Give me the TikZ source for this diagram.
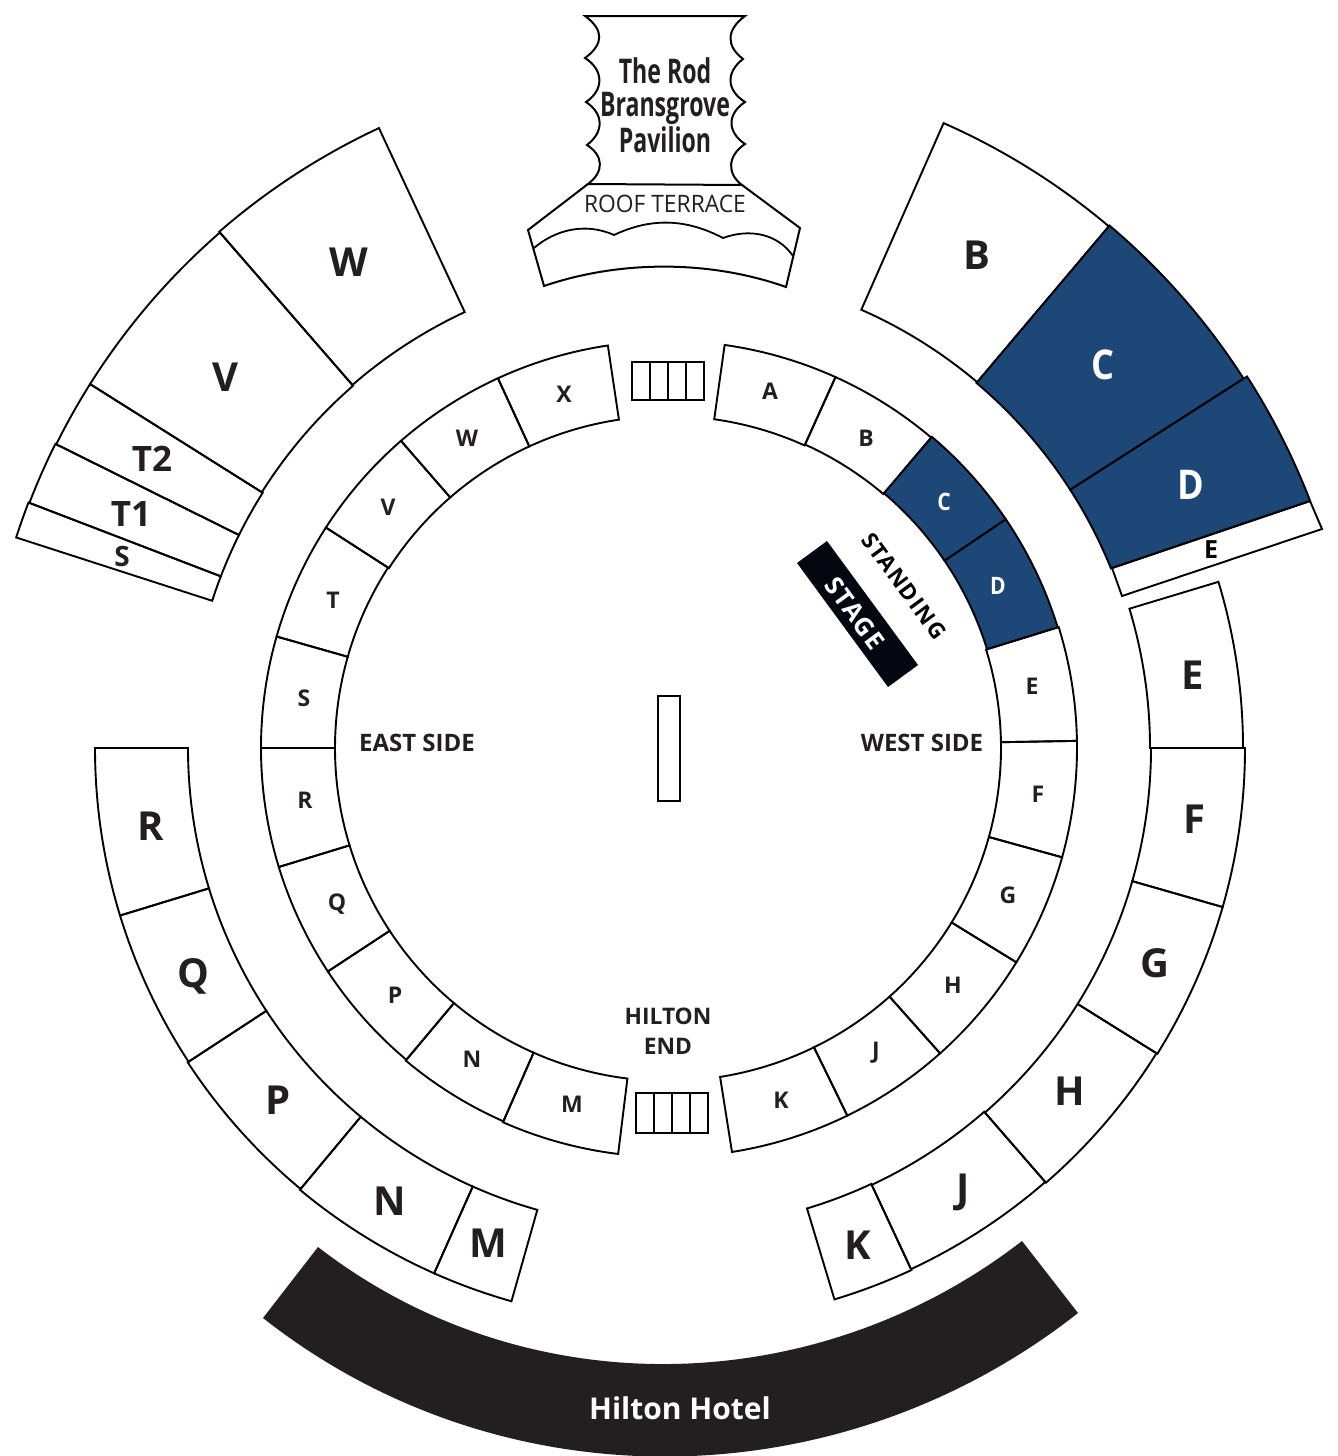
\documentclass[tikz,border=0pt]{standalone}
\usepackage{fontspec}
\setmainfont{Open Sans}
\newfontfamily\pavfont[FakeStretch=0.68]{Open Sans}
\newfontfamily\stagefont[LetterSpace=6]{Open Sans}
\newfontfamily\bluefont[FakeStretch=0.88]{Open Sans}
\definecolor{seatblue}{HTML}{1D4777}
\definecolor{hoteldark}{HTML}{231F20}
\definecolor{stagedark}{HTML}{04070F}
\newcommand{\seat}[5][]{\draw[seatline,#1] (#2:#4) arc[start angle=#2,end angle=#3,radius=#4] -- (#3:#5) arc[start angle=#3,end angle=#2,radius=#5] -- cycle;}
\begin{document}
\begin{tikzpicture}[x=0.5pt, y=-0.5pt,
    seatline/.style = {draw=black, line width=0.95pt, line join=miter},
    pitchline/.style = {draw=black, line width=0.9pt},
    gridline/.style = {draw=black, line width=1.35pt},
    bluefill/.style = {fill=seatblue},
    biglabel/.style = {font=\fontsize{20}{20}\selectfont\bfseries, text=hoteldark, inner sep=0pt},
    bluebig/.style = {font=\bluefont\fontsize{20.5}{20.5}\selectfont\bfseries, text=white, inner sep=0pt},
    midlabel/.style = {font=\fontsize{17.5}{17.5}\selectfont\bfseries, text=hoteldark, inner sep=0pt},
    smalllabel/.style = {font=\fontsize{11.5}{11.5}\selectfont\bfseries, text=hoteldark, inner sep=0pt},
    bluesmall/.style = {font=\bluefont\fontsize{12}{12}\selectfont\bfseries, text=white, inner sep=0pt},
    sidelabel/.style = {font=\fontsize{12}{12}\selectfont\bfseries, text=hoteldark, inner sep=0pt, align=center}]
    \useasboundingbox (0,0) rectangle (1338,1456);

    % hotel band
    \fill[hoteldark] (318,1247) .. controls (525,1407) and (815,1401) .. (1022,1241)
        -- (1078,1313) .. controls (839,1501) and (502,1506) .. (263,1318) -- cycle;
    \node[font=\fontsize{15}{15}\selectfont\bfseries, text=white, inner sep=0pt] (hotel) at (680,1408) {Hilton Hotel};

    % pavilion
    \draw[line width=1pt] (585,16) -- (745,16)
        .. controls (726,30) and (726,46) .. (743,59)
        .. controls (726,72) and (726,90) .. (745,102)
        .. controls (727,114) and (727,132) .. (745,144)
        .. controls (727,156) and (727,174) .. (742,185)
        -- (588,184)
        .. controls (604,172) and (604,156) .. (587,145)
        .. controls (604,132) and (604,114) .. (586,102)
        .. controls (604,90) and (604,70) .. (585,58)
        .. controls (604,44) and (604,30) .. (585,16) -- cycle;
    \draw[line width=1pt] (588,184) -- (528,230) -- (544,286)
        .. controls (620,260) and (710,260) .. (786,287) -- (800,228) -- (742,185);
    \draw[line width=0.9pt] (534,248) .. controls (555,230) and (585,222) .. (614,235)
        .. controls (650,218) and (685,218) .. (723,238)
        .. controls (750,228) and (778,234) .. (793,256);
    \node[font=\pavfont\fontsize{17}{16.6}\selectfont\bfseries, text=hoteldark, align=center, inner sep=0pt] (pavilion) at (665,105) {The Rod\\Bransgrove\\Pavilion};
    \node[font=\fontsize{12}{12}\selectfont\addfontfeature{FakeStretch=0.95}, text=hoteldark, inner sep=0pt] (terrace) at (665,204) {ROOF TERRACE};

    % stands, outer and inner rings
    \begin{scope}[shift={(668,748)}]
        \seat{-66.2}{-49.8}{479}{683}
        \seat[bluefill]{-49.8}{-32.7}{478}{684}
        \draw[seatline, bluefill] (-32.7:478) arc[start angle=-32.7,end angle=-22.07,radius=478]
            -- (-21.04:688) arc[start angle=-21.04,end angle=-32.7,radius=687] -- cycle;
        \seat{-16.8}{0}{482}{575}
        \seat{0}{16}{483}{577}
        \seat{16}{32}{483}{577}
        \seat{32}{49}{483}{576}
        \seat{49}{65}{482}{575}
        \seat{65}{73.2}{481}{576}
        \seat{105.8}{114}{480}{575}
        \seat{114}{129.8}{480}{575}
        \seat{129.8}{146.8}{480}{574}
        \seat{146.8}{163}{480}{573}
        \seat{163}{180}{480}{573}
        \seat{197.9}{201}{479}{685}
        \seat{201}{206.4}{479}{684}
        \seat{206.4}{212.2}{479}{683}
        \seat{212.2}{229}{480}{683}
        \seat{229}{245}{481}{684}

        \seat{-82}{-65.7}{332}{407}
        \seat{-65.7}{-49.7}{333}{407}
        \seat[bluefill]{-49.7}{-34.1}{334}{408}
        \seat[bluefill]{-34.1}{-17.2}{334}{408}
        \seat{-17.2}{-1}{333}{409}
        \seat{-1}{15.5}{333}{409}
        \seat{15.5}{31.6}{333}{409}
        \seat{31.6}{48.3}{333}{409}
        \seat{48.3}{64}{333}{409}
        \seat{64}{81}{333}{409}
        \seat{97}{113.8}{333}{409}
        \seat{113.8}{130}{333}{408}
        \seat{130}{146.7}{333}{407}
        \seat{146.7}{163}{333}{407}
        \seat{163}{180}{333}{407}
        \seat{180}{195.9}{333}{407}
        \seat{195.9}{212.8}{333}{407}
        \seat{212.8}{229}{332}{407}
        \seat{229}{245.3}{332}{407}
        \seat{245.3}{261.5}{332}{407}
    \end{scope}
    \draw[seatline] (1310,501) -- (1322,529) -- (1122,596) -- (1112,568) -- cycle;

    % pitch and sight screens
    \draw[pitchline] (658,696) rectangle (680,801);
    \draw[gridline] (632,362) rectangle (704,400);
    \draw[gridline] (650,362) -- (650,400);
    \draw[gridline] (668,362) -- (668,400);
    \draw[gridline] (686,362) -- (686,400);
    \draw[gridline] (636,1093) rectangle (708,1133);
    \draw[gridline] (654,1093) -- (654,1133);
    \draw[gridline] (672,1093) -- (672,1133);
    \draw[gridline] (690,1093) -- (690,1133);

    % stage
    \fill[stagedark] (827,541) -- (918,665) -- (888,687) -- (797,563) -- cycle;
    \node[font=\stagefont\fontsize{12.6}{12.6}\selectfont\bfseries, text=white, rotate=-53.7, inner sep=0pt] (stage) at (855,613) {STAGE};
    \node[font=\stagefont\fontsize{11.2}{11.2}\selectfont\bfseries, text=black, rotate=-53.7, inner sep=0pt] (standing) at (904,586) {STANDING};

    % side labels
    \node[sidelabel] (east) at (417,743) {EAST SIDE};
    \node[sidelabel] (west) at (922,743) {WEST SIDE};
    \node[font=\fontsize{11.4}{15}\selectfont\bfseries, text=hoteldark, inner sep=0pt, align=center] (end) at (668,1031) {HILTON\\END};

    % outer labels
    \node[biglabel] (oB) at (977,255) {B};
    \node[bluebig] (oC) at (1103,365) {C};
    \node[bluebig] (oD) at (1191,485) {D};
    \node[smalllabel, font=\fontsize{12.5}{12.5}\selectfont\bfseries, text=black] (oEs) at (1211,550) {E};
    \node[biglabel] (oE) at (1193,675) {E};
    \node[biglabel] (oF) at (1194,819) {F};
    \node[biglabel] (oG) at (1155,963) {G};
    \node[biglabel] (oH) at (1070,1091) {H};
    \node[biglabel] (oJ) at (963,1192) {J};
    \node[biglabel] (oK) at (858,1245) {K};
    \node[biglabel] (oM) at (488,1243) {M};
    \node[biglabel] (oN) at (390,1201) {N};
    \node[biglabel] (oP) at (278,1100) {P};
    \node[biglabel] (oQ) at (193,976) {Q};
    \node[biglabel] (oR) at (151,826) {R};
    \node[font=\fontsize{14}{14}\selectfont\bfseries, text=hoteldark, inner sep=0pt] (oS) at (122,556) {S};
    \node[midlabel] (oT1) at (131,514) {T1};
    \node[midlabel] (oT2) at (152,459) {T2};
    \node[biglabel] (oV) at (225,377) {V};
    \node[biglabel] (oW) at (349,262) {W};

    % inner labels
    \node[smalllabel] (iA) at (770,391) {A};
    \node[smalllabel] (iB) at (866,438) {B};
    \node[bluesmall] (iC) at (944,502) {C};
    \node[bluesmall] (iD) at (998,586) {D};
    \node[smalllabel] (iE) at (1032,686) {E};
    \node[smalllabel] (iF) at (1038,794) {F};
    \node[smalllabel] (iG) at (1008,895) {G};
    \node[smalllabel] (iH) at (953,985) {H};
    \node[smalllabel] (iJ) at (876,1053) {J};
    \node[smalllabel] (iK) at (781,1100) {K};
    \node[smalllabel] (iM) at (572,1104) {M};
    \node[smalllabel] (iN) at (472,1059) {N};
    \node[smalllabel] (iP) at (395,995) {P};
    \node[smalllabel] (iQ) at (337,904) {Q};
    \node[smalllabel] (iR) at (305,800) {R};
    \node[smalllabel] (iS) at (304,698) {S};
    \node[smalllabel] (iT) at (333,600) {T};
    \node[smalllabel] (iV) at (388,507) {V};
    \node[smalllabel] (iW) at (467,438) {W};
    \node[smalllabel] (iX) at (564,394) {X};
\end{tikzpicture}
\end{document}
